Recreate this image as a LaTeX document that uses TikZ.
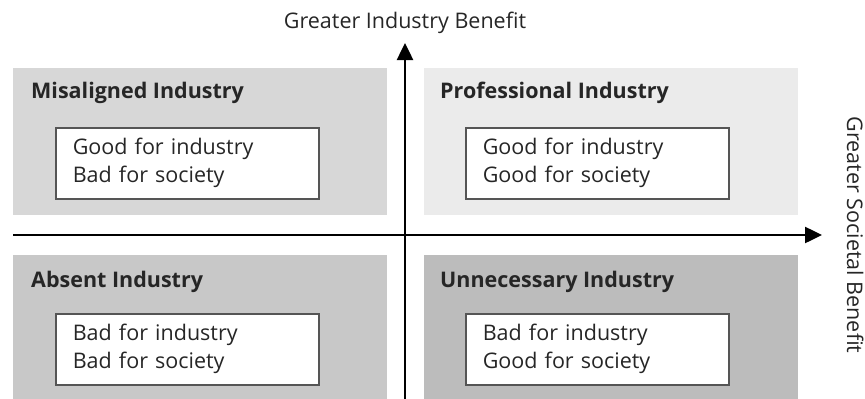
\documentclass[tikz,border=0pt]{standalone}
\usepackage{fontspec}
\setmainfont{Open Sans}
\usepackage{tikz}
\usetikzlibrary{arrows.meta}

\definecolor{quadTL}{HTML}{D7D7D7}
\definecolor{quadTR}{HTML}{EBEBEB}
\definecolor{quadBL}{HTML}{C8C8C8}
\definecolor{quadBR}{HTML}{BCBCBC}
\definecolor{boxedge}{HTML}{555555}

\begin{document}
\begin{tikzpicture}[
		x=1pt, y=-1pt,
		every node/.style={inner sep=0pt, font=\fontsize{21.5}{28}\selectfont},
		quad/.style={rectangle, anchor=north west, minimum width=374pt},
		title/.style={anchor=base west, font=\fontsize{21.5}{28}\selectfont\bfseries, text=black!85},
		verdict/.style={rectangle, draw=boxedge, line width=1.5pt, fill=white, anchor=north west,
			minimum height=71pt, text width=229pt, inner xsep=17pt, align=left, text=black!85},
		axis/.style={line width=2.5pt, -{Triangle[length=17pt, width=16pt]}}
	]
  \useasboundingbox (0,0) rectangle (865,399);
  % quadrants
  \node (misaligned) [quad, fill=quadTL, minimum height=147pt] at (13,68) {};
  \node (professional) [quad, fill=quadTR, minimum height=147pt] at (424,68) {};
  \node (absent) [quad, fill=quadBL, minimum height=144pt] at (13,255) {};
  \node (unnecessary) [quad, fill=quadBR, minimum height=144pt] at (424,255) {};
  \node (misaligned_title) [title] at (31,98) {Misaligned Industry};
  \node (professional_title) [title] at (440,98) {Professional Industry};
  \node (absent_title) [title] at (31,287) {Absent Industry};
  \node (unnecessary_title) [title] at (440,287) {Unnecessary Industry};
  \node (misaligned_box) [verdict] at (55,127) {Good for industry\\Bad for society};
  \node (professional_box) [verdict] at (465,127) {Good for industry\\Good for society};
  \node (absent_box) [verdict] at (55,313) {Bad for industry\\Bad for society};
  \node (unnecessary_box) [verdict] at (465,313) {Bad for industry\\Good for society};
  % axes
  \coordinate (y_low) at (405,399);
  \coordinate (y_high) at (405,43);
  \coordinate (x_low) at (13,235);
  \coordinate (x_high) at (822,235);
  \draw [axis] (y_low) -- (y_high);
  \draw [axis] (x_low) -- (x_high);
  \node (industry_label) [anchor=base, text=black!85] at (405,28) {Greater Industry Benefit};
  \node (societal_label) [anchor=base, rotate=-90, text=black!85] at (847,235) {Greater Societal Benefit};
\end{tikzpicture}
\end{document}
